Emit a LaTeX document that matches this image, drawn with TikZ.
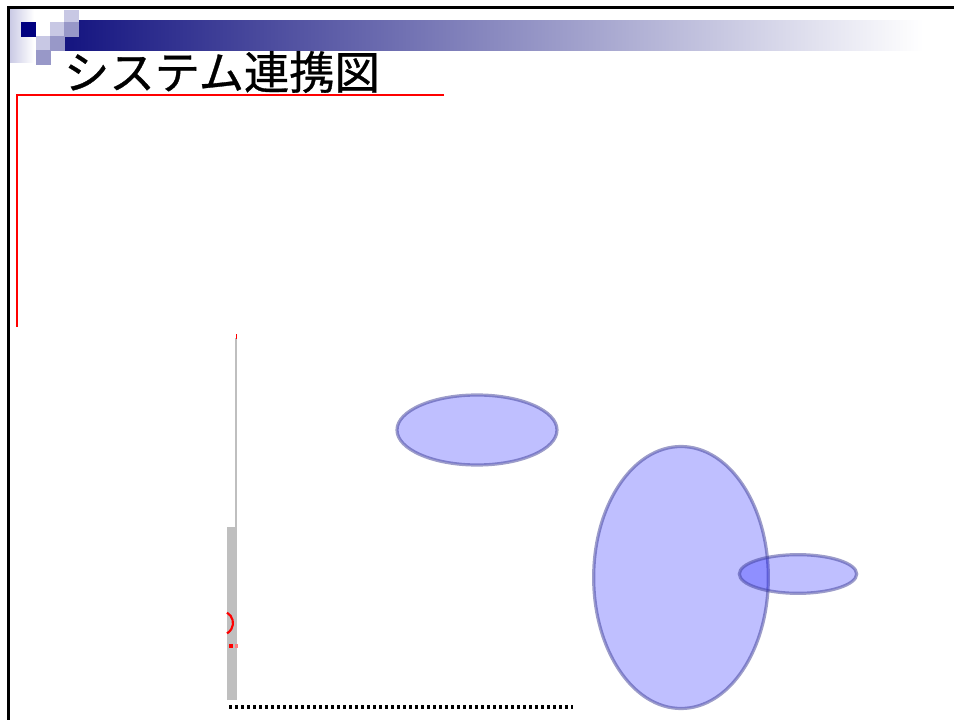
\documentclass[tikz,border=0pt]{standalone}
\usepackage{fontspec}
\newfontfamily\jpfont[FakeBold=0.7]{Noto Sans CJK JP}
\usetikzlibrary{shapes.geometric,positioning}
\definecolor{navy}{RGB}{0,0,128}
\definecolor{lav}{RGB}{200,200,228}
\definecolor{midlav}{RGB}{152,152,200}
\definecolor{barmid}{RGB}{178,178,200}
\definecolor{blobline}{RGB}{60,60,150}

\begin{document}
\begin{tikzpicture}[x=0.75pt,y=-0.75pt,
   blob/.style={ellipse,inner sep=0pt,fill=blue,fill opacity=0.25,
      draw=blobline,draw opacity=0.5,line width=2.4pt},
   tile/.style={inner sep=0pt,minimum size=10.8pt,anchor=north west}]
   \useasboundingbox (0,0) rectangle (954,720);
   % header
   \shade[left color=lav,right color=white] (9,10) rectangle (34,63);
   \shade[left color={rgb,255:red,20;green,20;blue,128},middle color=barmid,right color=white] (64,21) rectangle (923,51);
   \node[tile,fill=navy]   (t_a) at (21,22) {};
   \node[tile,fill=lav]    (t_b) at (64,10) {};
   \node[tile,fill=lav]    (t_c) at (50,22) {};
   \node[tile,fill=midlav] (t_d) at (64,22) {};
   \node[tile,fill=lav]    (t_e) at (36,36) {};
   \node[tile,fill=midlav] (t_f) at (50,36) {};
   \node[tile,fill=midlav] (t_g) at (36,50) {};
   \draw[line width=2.25pt] (8,720) -- (8,8) -- (954,8);
   \node[inner sep=0pt] (title) at (222,72) {\jpfont\fontsize{34}{34}\selectfont システム連携図};
   \draw[red,line width=0.8pt] (444,95) -- (17,95) -- (17,327);
   % left bar
   \draw[gray!50,line width=1.5pt] (236,338) -- (236,700);
   \fill[red] (235.5,334) rectangle (237,339);
   \fill[gray!50] (227,527) rectangle (237,700);
   \draw[red,line width=1.6pt] (221,623) ++(-60:12) arc[start angle=-60,end angle=60,radius=12];
   \fill[red] (229,644) rectangle (233,648);
   \fill[red!50] (235,644) rectangle (238,648);
   \draw[line width=2.4pt,dash pattern=on 2.4pt off 2.1pt] (229,707) -- (573,707);
   % ellipses
   \node[blob,minimum width=120pt,minimum height=52.5pt] (sysA) at (477,430) {};
   \node[blob,minimum width=131pt,minimum height=196.5pt] (sysB) at (681,577.5) {};
   \node[blob,minimum width=88pt,minimum height=29pt] (sysC) at (798,574) {};
\end{tikzpicture}
\end{document}
